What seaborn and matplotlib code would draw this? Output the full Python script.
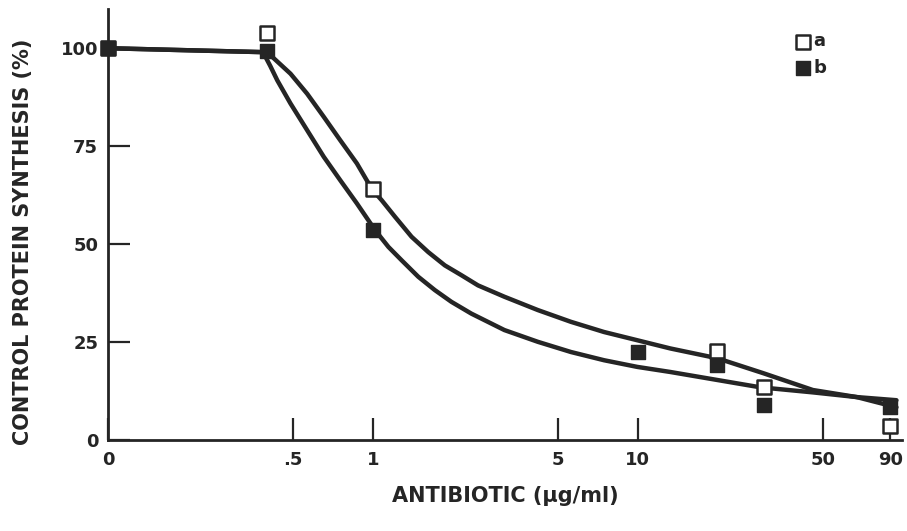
import numpy as np
import pandas as pd
import matplotlib
matplotlib.use("Agg")
import matplotlib.pyplot as plt
import seaborn as sns

# measured points (the "0" control is drawn at 0.1 on the log axis)
conc_a = [0.1, 0.4, 1, 20, 30, 90]
synth_a = [100, 104, 64, 22.7, 13.5, 3.6]
conc_b = [0.1, 0.4, 1, 10, 20, 30, 90]
synth_b = [100, 99.2, 53.5, 22.4, 19.1, 9.0, 8.4]

# hand drawn curves
curve_a_x = [0.1, 0.385, 0.411, 0.489, 0.565, 0.653, 0.754, 0.871, 0.949, 1.006,
             1.081, 1.213, 1.401, 1.619, 1.871, 2.16, 2.496, 3.14, 4.2, 5.6, 7.47,
             9.97, 13.3, 20.0, 29.8, 45.9, 67.2, 94.9]
curve_a_y = [100, 99.0, 98.2, 93.5, 88.4, 82.5, 76.5, 70.6, 66.3, 63.6,
             61.2, 57.0, 51.9, 48.0, 44.6, 42.1, 39.5, 36.6, 33.2, 30.2, 27.6,
             25.5, 23.4, 20.9, 17.1, 12.8, 11.0, 8.4]
curve_b_x = [0.1, 0.385, 0.41, 0.436, 0.489, 0.565, 0.653, 0.754, 0.871, 1.02,
             1.146, 1.285, 1.485, 1.715, 1.981, 2.355, 3.14, 4.2, 5.6, 7.47, 9.97,
             13.3, 29.0, 45.9, 67.2, 94.9]
curve_b_y = [100, 99.0, 95.5, 91.8, 85.9, 79.1, 72.3, 66.3, 60.4, 53.6,
             49.3, 45.9, 41.7, 38.3, 35.3, 32.3, 28.1, 25.1, 22.5, 20.4, 18.7,
             17.4, 13.5, 12.2, 11.0, 10.2]

xticks = [0.1, 0.5, 1, 5, 10, 50, 90]
xtick_labels = ["0", ".5", "1", "5", "10", "50", "90"]
yticks = [0, 25, 50, 75, 100]

sns.set_style("ticks")
plt.rcParams['font.family'] = ['DejaVu Sans']
plt.rcParams['font.weight'] = 'bold'

ink = '#252525'

fig = plt.figure(figsize=(9.07, 5.31), dpi=100)
ax = fig.add_axes([0.119, 0.171, 0.876, 0.812])

df_ca = pd.DataFrame({'x': curve_a_x, 'y': curve_a_y})
df_cb = pd.DataFrame({'x': curve_b_x, 'y': curve_b_y})
for dfc in [df_ca, df_cb]:
    sns.lineplot(dfc, x='x', y='y', ax=ax, color=ink, lw=3.2, sort=False,
                 estimator=None, legend=False, zorder=2,
                 solid_joinstyle='round', solid_capstyle='round')

df_a = pd.DataFrame({'x': conc_a, 'y': synth_a})
df_b = pd.DataFrame({'x': conc_b, 'y': synth_b})
sns.scatterplot(df_a, x='x', y='y', ax=ax, marker='s', s=90, facecolor='white',
                edgecolor=ink, linewidth=1.8, label='a', zorder=3, clip_on=False)
sns.scatterplot(df_b, x='x', y='y', ax=ax, marker='s', s=90, color=ink,
                edgecolor=ink, linewidth=1.0, label='b', zorder=4, clip_on=False)

ax.set_xscale('log')
ax.set_xlim(0.1, 100)
ax.set_ylim(0, 110)
ax.set_xticks(xticks)
ax.set_xticklabels(xtick_labels)
ax.xaxis.set_minor_locator(matplotlib.ticker.NullLocator())
ax.set_yticks(yticks)

ax.tick_params(axis='both', direction='in', length=16, width=1.6, color=ink,
               labelsize=13, labelcolor=ink)
ax.tick_params(axis='x', pad=8)
ax.tick_params(axis='y', pad=7)
for lab in ax.get_xticklabels() + ax.get_yticklabels():
    lab.set_fontweight('bold')

sns.despine(ax=ax)
for side in ['left', 'bottom']:
    ax.spines[side].set_linewidth(2.0)
    ax.spines[side].set_color(ink)

ax.set_xlabel("ANTIBIOTIC (µg/ml)", fontsize=15, fontweight='bold', color=ink, labelpad=12)
ax.set_ylabel("CONTROL PROTEIN SYNTHESIS (%)", fontsize=15, fontweight='bold', color=ink)
ax.yaxis.set_label_coords(-0.094, 0.46)

leg = ax.legend(loc='upper left', bbox_to_anchor=(0.848, 0.975), frameon=False,
                handletextpad=0.05, borderpad=0.2, labelspacing=0.45, fontsize=13,
                handlelength=1.0)
for t in leg.get_texts():
    t.set_fontweight('bold')
    t.set_color(ink)

fig.savefig('out.png', dpi=100)
